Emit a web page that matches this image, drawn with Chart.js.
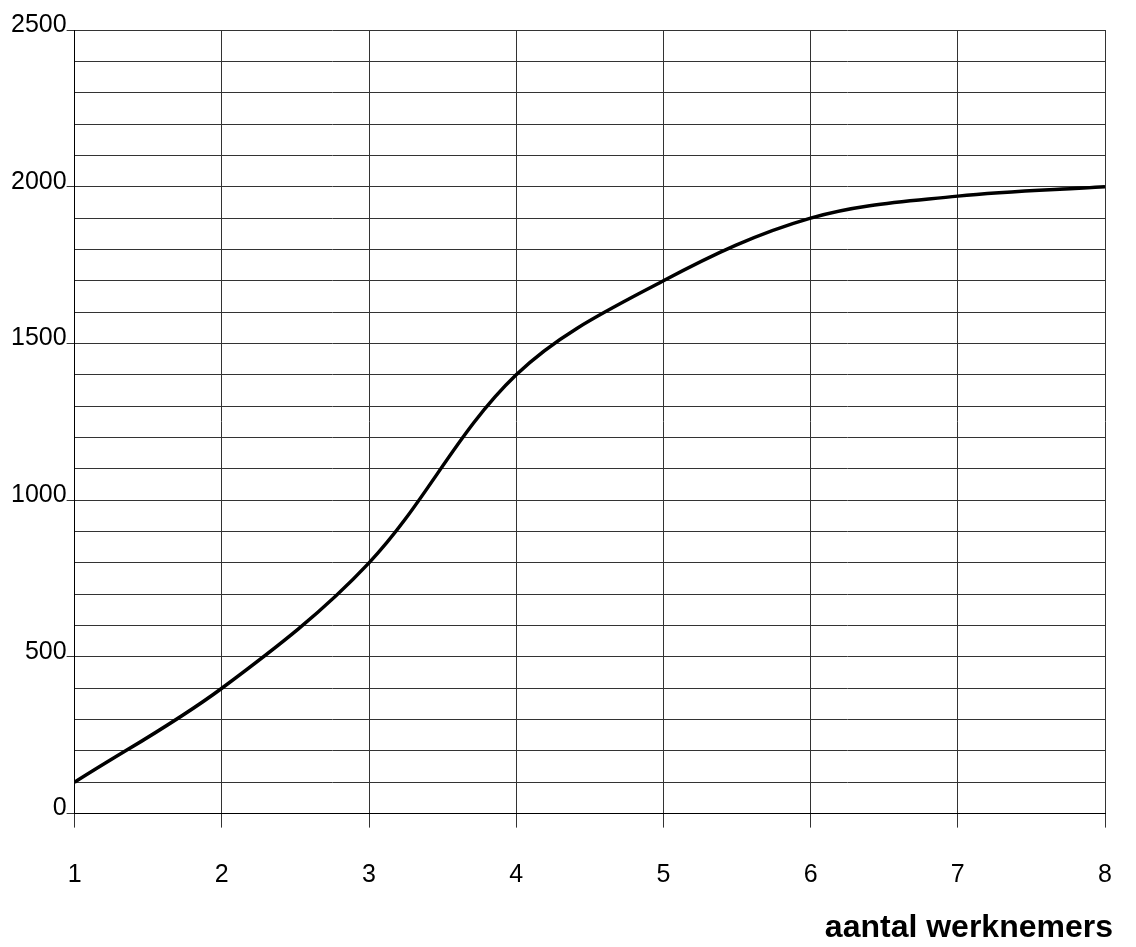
<!DOCTYPE html>
<html>
<head>
<meta charset="utf-8">
<script src="https://cdn.jsdelivr.net/npm/chart.js@4"></script>
<style>
  html, body { margin: 0; padding: 0; background: #fff; }
  #wrap { width: 1136px; height: 947px; }
</style>
</head>
<body>
<div id="wrap"><canvas id="chart"></canvas></div>
<script>
// data
const workers = [1, 2, 3, 4, 5, 6, 7, 8];
const output = [100, 400, 800, 1400, 1700, 1900, 1970, 2000];
const yLabelValues = [0, 500, 1000, 1500, 2000, 2500];
const xTitle = 'aantal werknemers';

const gridColor = '#333';
const fontFamily = "'Liberation Sans', Arial, sans-serif";

const ctx = document.getElementById('chart').getContext('2d');
new Chart(ctx, {
  type: 'line',
  data: {
    datasets: [{
      data: workers.map((w, i) => ({ x: w, y: output[i] })),
      borderColor: '#000',
      borderWidth: 3.5,
      pointRadius: 0,
      tension: 0.35,
      fill: false
    }]
  },
  options: {
    responsive: true,
    maintainAspectRatio: false,
    animation: false,
    layout: { padding: { left: 11, right: 23, top: 30, bottom: 0 } },
    plugins: {
      legend: { display: false },
      tooltip: { enabled: false },
      title: {
        display: true,
        text: xTitle,
        position: 'bottom',
        align: 'end',
        color: '#000',
        font: { family: fontFamily, size: 32, weight: 'bold' },
        padding: { top: 18, bottom: 0 }
      }
    },
    scales: {
      x: {
        type: 'linear',
        min: 1,
        max: 8,
        ticks: {
          stepSize: 1,
          color: '#000',
          padding: 33,
          font: { family: fontFamily, size: 25 }
        },
        grid: { color: gridColor, lineWidth: 1, tickLength: 14, tickColor: gridColor },
        border: { color: '#000', width: 1 },
        // tick padding is counted twice by default; keep the axis compact
        afterFit: scale => {
          scale.height = 14 + 33 + 30;
          scale.paddingRight = 31;
        }
      },
      y: {
        min: 0,
        max: 2500,
        ticks: {
          stepSize: 100,
          autoSkip: false,
          color: '#000',
          padding: 0,
          labelOffset: -5,
          font: { family: fontFamily, size: 25 },
          callback: v => yLabelValues.includes(v) ? String(v) : ''
        },
        grid: {
          color: gridColor,
          lineWidth: 1,
          tickLength: 8,
          tickColor: c => yLabelValues.includes(c.tick.value) ? gridColor : 'rgba(0,0,0,0)'
        },
        border: { color: '#000', width: 1 }
      }
    }
  }
});
</script>
</body>
</html>
